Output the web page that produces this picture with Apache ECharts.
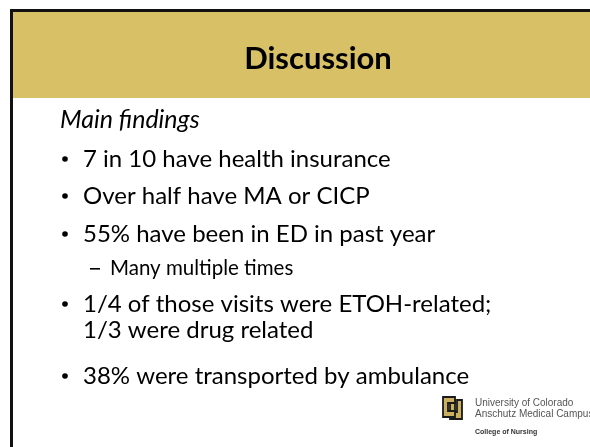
<!DOCTYPE html>
<html>
<head>
<meta charset="utf-8">
<script src="https://cdn.jsdelivr.net/npm/echarts@6/dist/echarts.min.js"></script>
<style>
html, body { margin: 0; padding: 0; background: #fff; }
#main { width: 590px; height: 447px; }
</style>
</head>
<body>
<div id="main"></div>
<script>
var slideTitle = 'Discussion';
var subTitle = 'Main findings';
// level 1 = bullet, 2 = sub bullet, 0 = continuation line
var bulletTexts = [
    '7 in 10 have health insurance',
    'Over half have MA or CICP',
    '55% have been in ED in past year',
    'Many multiple times',
    '1/4 of those visits were ETOH-related;',
    '1/3 were drug related',
    '38% were transported by ambulance'
];
var bulletLevels = [1, 1, 1, 2, 1, 0, 1];
var bulletRows = [159, 196, 234, 268, 304, 330, 376];
var logoLines = ['University of Colorado', 'Anschutz Medical Campus', 'College of Nursing'];

var gold = '#D8C066';
var fontMain = 'Lato, "Open Sans", sans-serif';

function buildGraphic(){
    var g = [];
    // header band and frame
    g.push({ type: 'rect', shape: { x: 10, y: 9, width: 580, height: 89 }, style: { fill: gold } });
    g.push({ type: 'rect', shape: { x: 10, y: 9, width: 580, height: 3 }, style: { fill: '#111' } });
    g.push({ type: 'rect', shape: { x: 10, y: 9, width: 3, height: 438 }, style: { fill: '#111' } });
    g.push({
        type: 'text', x: 318, y: 59,
        style: { text: slideTitle, font: 'bold 31px ' + fontMain, fill: '#000', align: 'center', verticalAlign: 'middle' }
    });
    g.push({
        type: 'text', x: 60, y: 120,
        style: { text: subTitle, font: 'italic 25px ' + fontMain, fill: '#000', align: 'left', verticalAlign: 'middle' }
    });
    for (var i = 0; i < bulletTexts.length; i++) {
        var lv = bulletLevels[i];
        var y = bulletRows[i];
        if (lv === 1) {
            g.push({ type: 'circle', shape: { cx: 65, cy: y, r: 2.8 }, style: { fill: '#000' } });
        }
        if (lv === 2) {
            g.push({ type: 'rect', shape: { x: 90, y: y, width: 10, height: 1.6 }, style: { fill: '#000' } });
        }
        g.push({
            type: 'text', x: lv === 2 ? 110 : 83, y: y,
            style: {
                text: bulletTexts[i],
                font: (lv === 2 ? '20.5px ' : '24px ') + fontMain,
                fill: '#000', align: 'left', verticalAlign: 'middle'
            }
        });
    }
    // logo mark (CU)
    g.push({
        type: 'group', x: 443, y: 397,
        children: [
            { type: 'polygon', shape: { points: [[7, 3], [12, 3], [12, 15], [14, 15], [14, 3], [19, 3], [19, 22], [7, 22]] }, style: { fill: '#CBAE5E', stroke: '#1a1a1a', lineWidth: 1.8 } },
            { type: 'polygon', shape: { points: [[0, 0], [12, 0], [12, 6], [5, 6], [5, 14], [12, 14], [12, 20], [0, 20]] }, style: { fill: '#CBAE5E', stroke: '#1a1a1a', lineWidth: 1.8 } }
        ]
    });
    g.push({ type: 'text', x: 475, y: 403, style: { text: logoLines[0], font: '10px "Liberation Sans", Arial, sans-serif', fill: '#555', verticalAlign: 'middle' } });
    g.push({ type: 'text', x: 475, y: 414, style: { text: logoLines[1], font: '10px "Liberation Sans", Arial, sans-serif', fill: '#555', verticalAlign: 'middle' } });
    g.push({ type: 'text', x: 475, y: 432, style: { text: logoLines[2], font: 'bold 7px "Liberation Sans", Arial, sans-serif', fill: '#333', verticalAlign: 'middle' } });
    return g;
}

var option = {
    backgroundColor: '#fff',
    animation: false,
    graphic: buildGraphic()
};

var chart = echarts.init(document.getElementById('main'));
chart.setOption(option);
</script>
</body>
</html>
